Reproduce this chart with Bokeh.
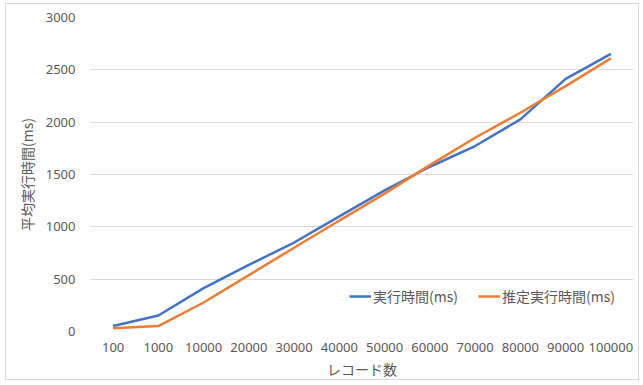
from bokeh.plotting import figure
from bokeh.models import FactorRange, Range1d, Legend, LegendItem, FixedTicker
from bokeh.embed import file_html
from bokeh.resources import INLINE

# レコード数ごとの平均実行時間(ms)
records = ["100", "1000", "10000", "20000", "30000", "40000",
           "50000", "60000", "70000", "80000", "90000", "100000"]
measured_ms = [52, 153, 414, 636, 850, 1100, 1349, 1574, 1772, 2027, 2414, 2653]
estimated_ms = [32, 52, 277, 538, 800, 1060, 1317, 1590, 1851, 2090, 2344, 2609]
y_ticks = [0, 500, 1000, 1500, 2000, 2500, 3000]

TEXT = "#595959"
GRID = "#D9D9D9"
NUM_FONT = "Noto Sans"
JP_FONT = "Noto Sans CJK JP"

# chart area sits inside a thin light border, offset from the page corner
p = figure(
    width=634, height=377,
    x_range=FactorRange(factors=records, range_padding=0),
    y_range=Range1d(0, 3000),
    output_backend="svg", toolbar_location=None,
    min_border_left=84, min_border_right=7,
    min_border_top=13, min_border_bottom=50,
)
p.styles = {"border": "1px solid #D9D9D9", "margin-left": "5px", "margin-top": "3px"}
p.outline_line_color = None
p.background_fill_color = "white"
p.border_fill_color = "white"

blue = p.line(records, measured_ms, line_color="#4472C4", line_width=2.5)
orange = p.line(records, estimated_ms, line_color="#ED7D31", line_width=2.5)

# axes
p.xgrid.visible = False
p.ygrid.grid_line_color = GRID
p.ygrid.grid_line_width = 1
p.yaxis.ticker = FixedTicker(ticks=y_ticks)
p.yaxis.minor_tick_line_color = None

for ax in (p.xaxis[0], p.yaxis[0]):
    ax.axis_line_color = None
    ax.major_tick_line_color = None
    ax.major_tick_out = 0
    ax.major_tick_in = 0
    ax.major_label_text_font = NUM_FONT
    ax.major_label_text_font_size = "13px"
    ax.major_label_text_color = TEXT
    ax.axis_label_text_font = JP_FONT
    ax.axis_label_text_font_size = "14px"
    ax.axis_label_text_font_style = "normal"
    ax.axis_label_text_color = TEXT

p.xaxis.axis_label = "レコード数"
p.xaxis.major_label_standoff = 11
p.xaxis.axis_label_standoff = 4
p.xaxis.group_text_font_size = "0px"

p.yaxis.axis_label = "平均実行時間(ms)"
p.yaxis.major_label_standoff = 15
p.yaxis.axis_label_standoff = 6

legend = Legend(
    items=[LegendItem(label="実行時間(ms)", renderers=[blue]),
           LegendItem(label="推定実行時間(ms)", renderers=[orange])],
    orientation="horizontal",
    location=(259, 25),
    padding=0, margin=0, spacing=20,
    glyph_width=22, glyph_height=14, label_height=14,
    label_standoff=2,
    label_text_font=JP_FONT, label_text_font_size="14px",
    label_text_color=TEXT,
    background_fill_alpha=0, border_line_alpha=0,
)
p.add_layout(legend, "center")

open("out.html", "w").write(file_html(p, INLINE))
